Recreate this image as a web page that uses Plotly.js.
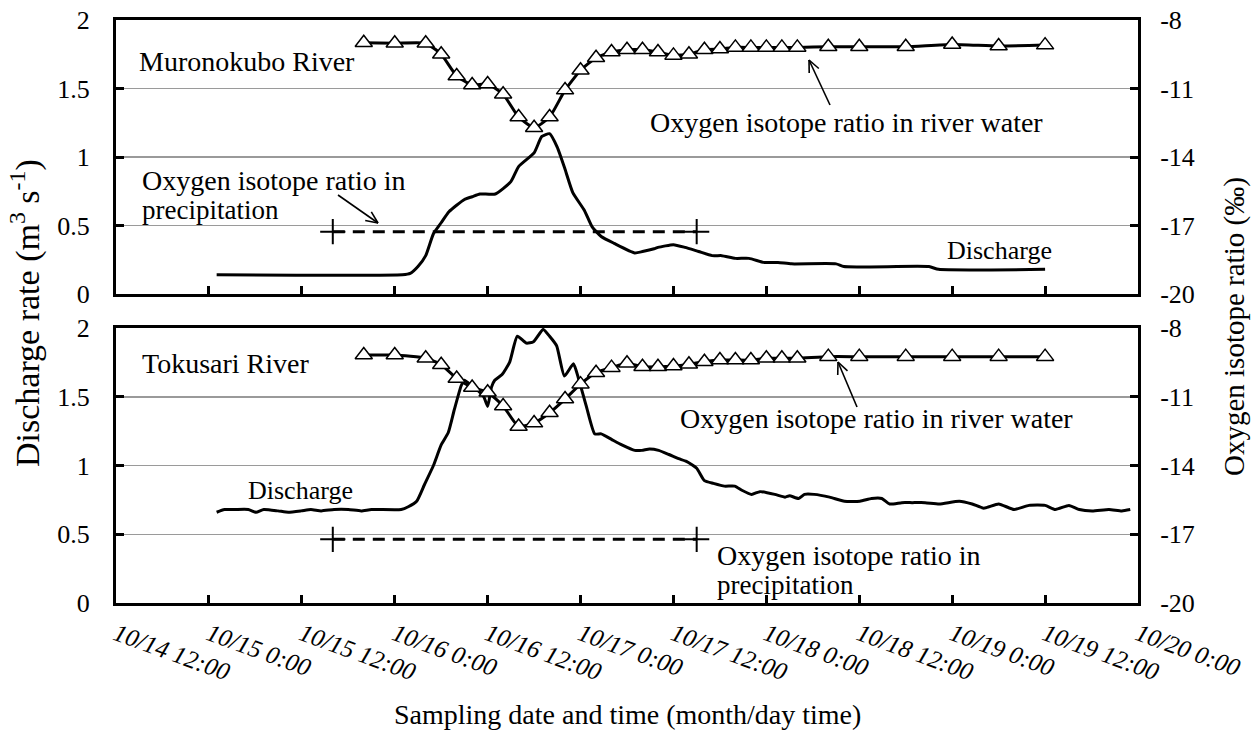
<!DOCTYPE html>
<html>
<head>
<meta charset="utf-8">
<script src="https://cdn.plot.ly/plotly-3.0.1.min.js"></script>
<style>html,body{margin:0;padding:0;background:#fff}#chart{width:1258px;height:731px}</style>
</head>
<body>
<div id="chart"></div>
<script>
// ---------- data ----------
const YEAR = '2009-';
// x-axis ticks (every 12 h)
const tickDates = ['10-14 12:00','10-15 00:00','10-15 12:00','10-16 00:00','10-16 12:00','10-17 00:00',
  '10-17 12:00','10-18 00:00','10-18 12:00','10-19 00:00','10-19 12:00','10-20 00:00'];
const tickLabels = ['10/14 12:00','10/15 0:00','10/15 12:00','10/16 0:00','10/16 12:00','10/17 0:00',
  '10/17 12:00','10/18 0:00','10/18 12:00','10/19 0:00','10/19 12:00','10/20 0:00'];

// Muronokubo River discharge (m3/s)
const muroQTime = ['10-15 01:00','10-16 01:00','10-16 02:00','10-16 03:00','10-16 04:00','10-16 05:00','10-16 06:00',
  '10-16 07:00','10-16 09:00','10-16 10:00','10-16 11:00','10-16 13:00','10-16 15:00','10-16 16:00','10-16 18:00',
  '10-16 19:00','10-16 20:00','10-16 21:00','10-16 22:00','10-16 23:00','10-17 00:30','10-17 01:30','10-17 02:40',
  '10-17 04:20','10-17 07:00','10-17 08:00','10-17 09:30','10-17 10:00','10-17 12:00','10-17 13:30','10-17 15:15',
  '10-17 17:00','10-17 18:15','10-17 20:00','10-17 21:45','10-17 23:45','10-18 01:30','10-18 03:15','10-18 09:00',
  '10-18 10:00','10-18 21:00','10-18 22:15','10-19 12:00'];
const muroQ = [0.14,0.14,0.15,0.20,0.28,0.44,0.52,
  0.60,0.69,0.71,0.73,0.73,0.82,0.93,1.03,
  1.15,1.17,1.07,0.91,0.74,0.61,0.49,0.42,
  0.37,0.30,0.31,0.33,0.34,0.36,0.34,0.31,
  0.28,0.28,0.26,0.26,0.23,0.23,0.22,0.22,
  0.20,0.20,0.18,0.18];

// river-water sampling times (both rivers)
const isoTime = ['10-15 20:00','10-16 00:00','10-16 04:00','10-16 06:00','10-16 08:00','10-16 10:00','10-16 12:00',
  '10-16 14:00','10-16 16:00','10-16 18:00','10-16 20:00','10-16 22:00','10-17 00:00','10-17 02:00','10-17 04:00',
  '10-17 06:00','10-17 08:00','10-17 10:00','10-17 12:00','10-17 14:00','10-17 16:00','10-17 18:00','10-17 20:00',
  '10-17 22:00','10-18 00:00','10-18 02:00','10-18 04:00','10-18 08:00','10-18 12:00','10-18 18:00','10-19 00:00',
  '10-19 06:00','10-19 12:00'];
// Muronokubo oxygen isotope ratio in river water (permil)
const muroIso = [-9.0,-9.02,-9.02,-9.5,-10.45,-10.85,-10.8,
  -11.25,-12.25,-12.72,-12.25,-11.07,-10.2,-9.65,-9.4,
  -9.3,-9.3,-9.4,-9.55,-9.5,-9.3,-9.27,-9.2,
  -9.2,-9.2,-9.2,-9.2,-9.17,-9.17,-9.17,-9.07,
  -9.14,-9.1];
// Tokusari oxygen isotope ratio in river water (permil)
const tokuIso = [-9.18,-9.18,-9.32,-9.6,-10.2,-10.6,-10.8,
  -11.4,-12.3,-12.15,-11.7,-11.1,-10.45,-9.95,-9.73,
  -9.54,-9.69,-9.69,-9.66,-9.58,-9.47,-9.4,-9.4,
  -9.4,-9.32,-9.32,-9.32,-9.25,-9.25,-9.25,-9.25,
  -9.25,-9.25];

// precipitation isotope ratio (period start / end)
const precTime = ['10-15 16:00','10-17 15:00'];
const muroPrec = [-17.27,-17.27];
const tokuPrec = [-17.22,-17.22];

// Tokusari River discharge (m3/s)
const tokuQTime = ['10-15 01:00','10-15 02:00','10-15 03:20','10-15 05:05','10-15 06:05','10-15 07:05','10-15 08:55',
  '10-15 10:15','10-15 11:55','10-15 13:10','10-15 14:30','10-15 16:10','10-15 18:00','10-15 19:40','10-15 21:00',
  '10-16 00:50','10-16 01:45','10-16 02:50','10-16 03:50','10-16 05:00','10-16 06:00','10-16 06:55','10-16 07:40',
  '10-16 08:35','10-16 09:00','10-16 09:55','10-16 10:50','10-16 11:30','10-16 12:00','10-16 12:30','10-16 12:55',
  '10-16 13:50','10-16 14:50','10-16 15:50','10-16 17:00','10-16 17:55','10-16 19:10','10-16 20:00','10-16 20:55',
  '10-16 21:55','10-16 23:05','10-16 23:45','10-17 00:45','10-17 01:50','10-17 02:40','10-17 04:00','10-17 05:20',
  '10-17 07:00','10-17 07:55','10-17 08:55','10-17 10:05','10-17 11:25','10-17 12:40','10-17 13:40','10-17 15:00',
  '10-17 16:00','10-17 17:10','10-17 18:35','10-17 19:55','10-17 20:50','10-17 22:05','10-17 23:10','10-18 01:05',
  '10-18 02:25','10-18 03:00','10-18 04:10','10-18 04:55','10-18 06:10','10-18 08:10','10-18 10:05','10-18 12:05',
  '10-18 13:35','10-18 14:55','10-18 15:55','10-18 17:30','10-18 18:50','10-18 20:30','10-18 22:20','10-19 00:55',
  '10-19 02:35','10-19 04:05','10-19 06:00','10-19 08:00','10-19 09:55','10-19 12:00','10-19 13:20','10-19 15:05',
  '10-19 16:25','10-19 18:05','10-19 20:15','10-19 21:55','10-19 23:00'];
const tokuQ = [0.66,0.68,0.68,0.68,0.66,0.68,0.67,
  0.66,0.67,0.68,0.67,0.68,0.68,0.67,0.68,
  0.68,0.70,0.74,0.86,1.00,1.15,1.24,1.40,
  1.58,1.62,1.58,1.54,1.50,1.43,1.57,1.62,
  1.66,1.75,1.94,1.89,1.90,1.99,1.94,1.87,
  1.65,1.74,1.63,1.43,1.23,1.23,1.19,1.15,
  1.11,1.11,1.12,1.11,1.08,1.05,1.03,0.98,
  0.89,0.87,0.85,0.85,0.82,0.79,0.81,0.79,
  0.77,0.78,0.76,0.79,0.79,0.77,0.74,0.74,
  0.76,0.76,0.72,0.73,0.73,0.73,0.72,0.74,
  0.72,0.69,0.72,0.68,0.71,0.71,0.68,0.71,
  0.68,0.67,0.68,0.67,0.68];

// ---------- chart ----------
const FONT = 'Liberation Serif, Times New Roman, serif';
const d = a => a.map(s => YEAR + s);
const W = 1258, H = 731, ML = 116, MR = 120, MT = 20, MB = 128;
const PW = W - ML - MR, PH = H - MT - MB;
const PX = X => (X - ML) / PW;
const PY = Y => 1 - (Y - MT) / PH;

const qLine = {color:'black', width:3, shape:'spline', smoothing:0.5};
const isoStyle = {
  mode:'lines+markers',
  line:{color:'black', width:3, shape:'spline', smoothing:0.5},
  marker:{symbol:'triangle-up', size:15, color:'white', line:{color:'black', width:1.5}}
};
const precStyle = {
  mode:'lines+markers',
  line:{color:'black', width:3, dash:'12px,8px'},
  marker:{symbol:'cross-thin', size:18, line:{color:'black', width:2}}
};

const traces = [
  {x:d(muroQTime), y:muroQ, xaxis:'x2', yaxis:'y3', mode:'lines', line:qLine, name:'Discharge'},
  Object.assign({x:d(precTime), y:muroPrec, xaxis:'x2', yaxis:'y4', name:'Precipitation'}, precStyle),
  Object.assign({x:d(isoTime), y:muroIso, xaxis:'x2', yaxis:'y4', name:'River water'}, isoStyle),
  {x:d(tokuQTime), y:tokuQ, xaxis:'x', yaxis:'y', mode:'lines', line:qLine, name:'Discharge'},
  Object.assign({x:d(precTime), y:tokuPrec, xaxis:'x', yaxis:'y2', name:'Precipitation'}, precStyle),
  Object.assign({x:d(isoTime), y:tokuIso, xaxis:'x', yaxis:'y2', name:'River water'}, isoStyle)
];

const frame = {showline:true, linewidth:3, linecolor:'black', ticks:'inside', ticklen:8, tickwidth:3,
  tickcolor:'black', zeroline:false};
const xBase = Object.assign({type:'date', range:[YEAR+tickDates[0], YEAR+tickDates[tickDates.length-1]],
  tickmode:'array', tickvals:d(tickDates), ticktext:tickLabels, showgrid:false, mirror:true}, frame);
const yLeft = Object.assign({range:[0,2], tickmode:'array', tickvals:[0,0.5,1,1.5,2], ticktext:['0','0.5','1','1.5','2'],
  showgrid:true, gridcolor:'#9a9a9a', gridwidth:1.5, tickfont:{size:26}, ticklabelstandoff:18}, frame);
const yRight = Object.assign({range:[-20,-8], tickmode:'array', tickvals:[-20,-17,-14,-11,-8],
  ticktext:['-20','-17','-14','-11','-8'], side:'right', showgrid:false, tickfont:{size:26}, ticklabelstandoff:14}, frame);

const ann = (text, X, Y, extra) => Object.assign({text:text, x:PX(X), y:PY(Y), xref:'paper', yref:'paper',
  xanchor:'left', yanchor:'middle', showarrow:false, font:{size:28}}, extra || {});

// arrows drawn as line shapes (shaft + open head)
const arrowShapes = [];
function arrow(tipX, tipY, tailX, tailY) {
  const line = (x0, y0, x1, y1) => ({type:'line', xref:'paper', yref:'paper', x0:PX(x0), y0:PY(y0), x1:PX(x1), y1:PY(y1),
    line:{color:'black', width:1.6}});
  arrowShapes.push(line(tailX, tailY, tipX, tipY));
  const ang = Math.atan2(tailY - tipY, tailX - tipX), L = 13, spread = 0.42;
  [ang - spread, ang + spread].forEach(a => arrowShapes.push(line(tipX, tipY, tipX + L * Math.cos(a), tipY + L * Math.sin(a))));
}
arrow(378, 223, 338, 195);
arrow(809, 60, 830, 105);
arrow(838, 362, 857, 407);

const layout = {
  width:W, height:H,
  margin:{l:ML, r:MR, t:MT, b:MB},
  paper_bgcolor:'white', plot_bgcolor:'white',
  showlegend:false,
  font:{family:FONT, size:26, color:'black'},
  xaxis: Object.assign({}, xBase, {domain:[0,1], anchor:'y', tickangle:20,
    tickfont:{size:25, style:'italic'}, ticklabelstandoff:4}),
  xaxis2: Object.assign({}, xBase, {domain:[0,1], anchor:'y3', matches:'x', showticklabels:false}),
  yaxis: Object.assign({}, yLeft, {domain:[0, PY(328)], anchor:'x'}),
  yaxis2: Object.assign({}, yRight, {overlaying:'y', anchor:'x'}),
  yaxis3: Object.assign({}, yLeft, {domain:[PY(294), 1], anchor:'x2'}),
  yaxis4: Object.assign({}, yRight, {overlaying:'y3', anchor:'x2'}),
  shapes: arrowShapes,
  annotations: [
    ann('Muronokubo River', 137, 61),
    ann('Oxygen isotope ratio in', 140, 180),
    ann('precipitation', 140, 210, {font:{size:27}}),
    ann('Oxygen isotope ratio in river water', 648, 123),
    ann('Discharge', 945, 250, {font:{size:26}}),
    ann('Tokusari River', 140, 363),
    ann('Discharge', 246, 490, {font:{size:26}}),
    ann('Oxygen isotope ratio in river water', 678, 418),
    ann('Oxygen isotope ratio in', 715, 555),
    ann('precipitation', 715, 585, {font:{size:27}}),
    ann('Discharge rate (m<sup>3</sup> s<sup>-1</sup>)', 25, 313, {xanchor:'center', textangle:-90, font:{size:34}}),
    ann('Oxygen isotope ratio (‰)', 1234, 327, {xanchor:'center', textangle:-90, font:{size:29}}),
    ann('Sampling date and time (month/day time)', 627, 714, {xanchor:'center', font:{size:28}})
  ]
};

Plotly.newPlot('chart', traces, layout, {staticPlot:true, displayModeBar:false});
</script>
</body>
</html>
